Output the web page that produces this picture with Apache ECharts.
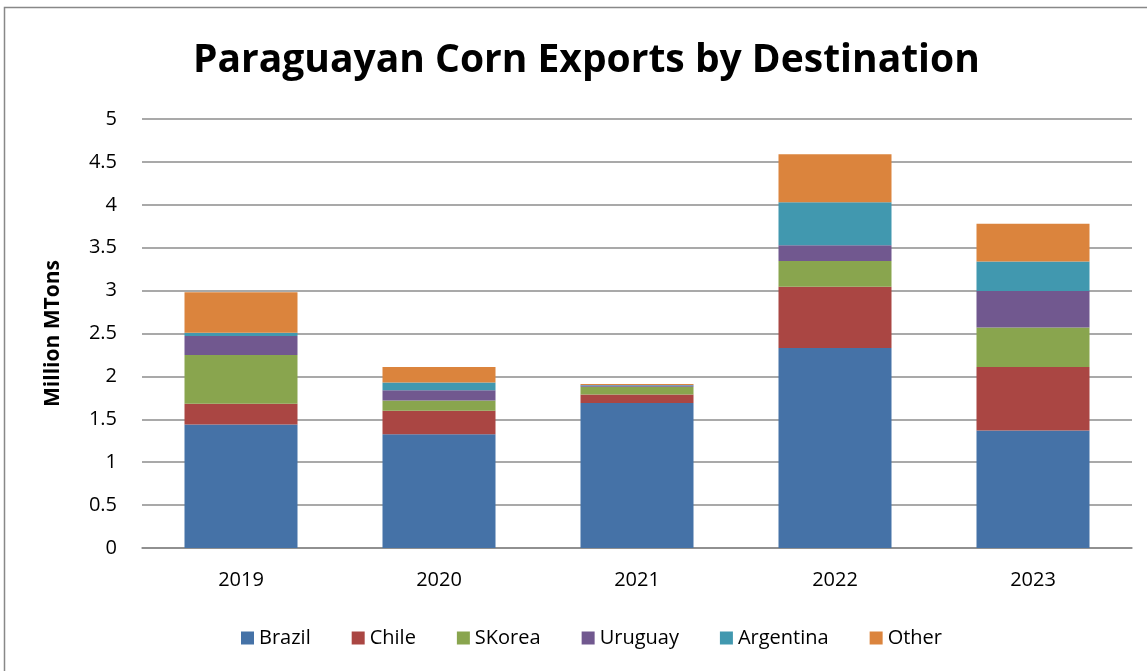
<!DOCTYPE html>
<html>
<head>
<meta charset="utf-8">
<script src="https://cdn.jsdelivr.net/npm/echarts@6/dist/echarts.min.js"></script>
<style>
  html, body { margin: 0; padding: 0; background: #fff; }
  #chart { width: 1147px; height: 671px; }
</style>
</head>
<body>
<div id="chart"></div>
<script>
// data (million metric tons)
var years = ['2019', '2020', '2021', '2022', '2023'];
var brazil = [1.44, 1.325, 1.69, 2.33, 1.37];
var chile = [0.24, 0.275, 0.10, 0.715, 0.74];
var skorea = [0.57, 0.12, 0.09, 0.30, 0.46];
var uruguay = [0.22, 0.12, 0.015, 0.185, 0.425];
var argentina = [0.04, 0.09, 0.005, 0.50, 0.345];
var other = [0.47, 0.18, 0.01, 0.56, 0.44];
var yTicks = [0, 0.5, 1, 1.5, 2, 2.5, 3, 3.5, 4, 4.5, 5];

var font = '"Open Sans", "Liberation Sans", sans-serif';

function bar(name, data, color) {
	return {
		name: name,
		type: 'bar',
		stack: 'total',
		barWidth: 113,
		data: data,
		itemStyle: {
			color: color
		}
	};
}

var myChart = echarts.init(document.getElementById('chart'));
var option = {
	backgroundColor: '#fff',
	animation: false,
	title: {
		text: 'Paraguayan Corn Exports by Destination',
		left: 188,
		top: 36,
		textStyle: {
			fontFamily: font,
			fontWeight: 'bold',
			fontSize: 39,
			color: '#000'
		}
	},
	legend: {
		bottom: 18,
		left: 236,
		itemWidth: 13,
		itemHeight: 13,
		itemGap: 41,
		icon: 'rect',
		textStyle: {
			fontFamily: font,
			fontSize: 20,
			color: '#000'
		}
	},
	grid: {
		left: 142,
		right: 15,
		top: 119,
		bottom: 123
	},
	xAxis: {
		type: 'category',
		data: years,
		axisLine: { lineStyle: { color: '#888', width: 1.5 } },
		axisTick: { show: false },
		axisLabel: {
			fontFamily: font,
			fontSize: 20,
			color: '#000',
			margin: 22
		}
	},
	yAxis: {
		type: 'value',
		min: yTicks[0],
		max: yTicks[yTicks.length - 1],
		interval: 0.5,
		name: 'Million MTons',
		nameLocation: 'middle',
		nameGap: 78,
		nameTextStyle: {
			fontFamily: font,
			fontWeight: 'bold',
			fontSize: 21,
			color: '#000'
		},
		axisLine: { show: false },
		axisTick: { show: false },
		axisLabel: {
			fontFamily: font,
			fontSize: 20,
			color: '#000',
			margin: 25
		},
		splitLine: { lineStyle: { color: '#8c8c8c', width: 1.5 } }
	},
	series: [
		bar('Brazil', brazil, '#4572A7'),
		bar('Chile', chile, '#AA4643'),
		bar('SKorea', skorea, '#89A54E'),
		bar('Uruguay', uruguay, '#71588F'),
		bar('Argentina', argentina, '#4198AF'),
		bar('Other', other, '#DB843D')
	],
	graphic: [{
		type: 'rect',
		shape: { x: 4.5, y: 7.5, width: 1150, height: 670 },
		style: { fill: 'none', stroke: '#888', lineWidth: 1.5 },
		silent: true
	}]
};
myChart.setOption(option);
</script>
</body>
</html>
